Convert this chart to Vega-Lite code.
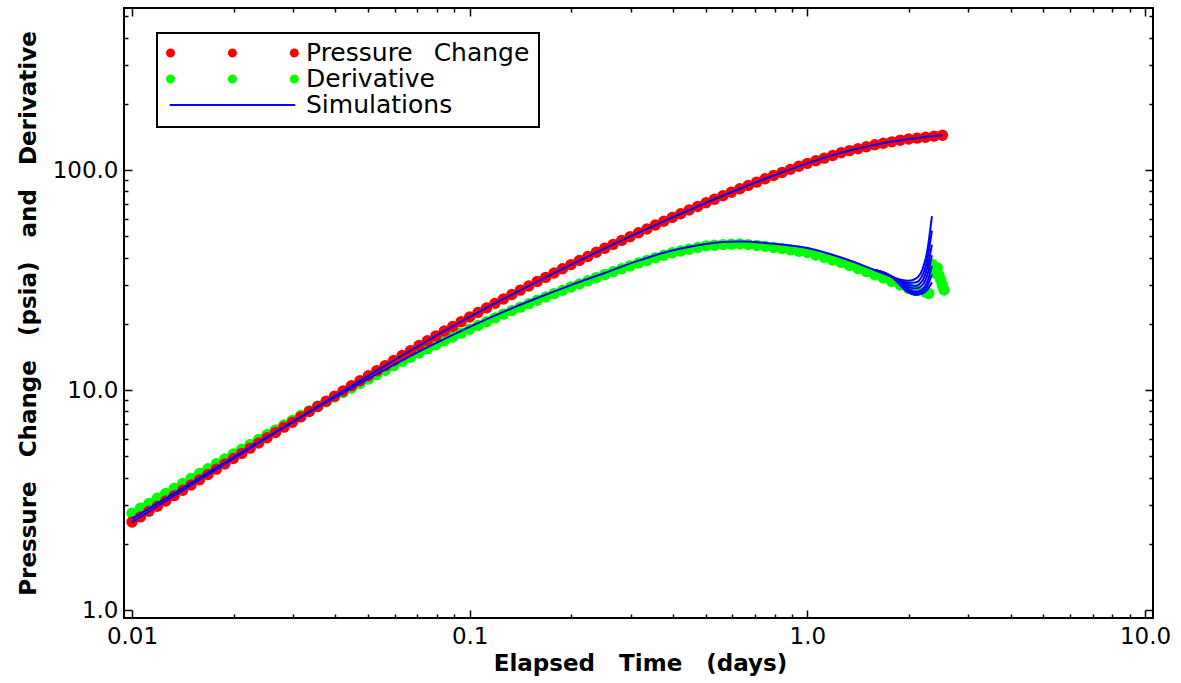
{
  "$schema": "https://vega.github.io/schema/vega-lite/v6.json",
  "width": 1029,
  "height": 610,
  "autosize": {"type": "none"},
  "padding": {"left": 124, "top": 8, "right": 28, "bottom": 65},
  "background": "white",
  "datasets": {
    "deriv": [
      {"t":0.01,"v":2.754},{"t":0.010593,"v":2.90},{"t":0.01122,"v":3.05},{"t":0.011885,"v":3.22},{"t":0.012589,"v":3.39},
      {"t":0.013335,"v":3.57},{"t":0.014125,"v":3.76},{"t":0.014962,"v":3.96},{"t":0.015849,"v":4.17},{"t":0.016788,"v":4.39},
      {"t":0.017783,"v":4.62},{"t":0.018836,"v":4.86},{"t":0.019953,"v":5.12},{"t":0.021135,"v":5.38},{"t":0.022387,"v":5.66},
      {"t":0.023714,"v":5.96},{"t":0.025119,"v":6.27},{"t":0.026607,"v":6.59},{"t":0.028184,"v":6.93},{"t":0.029854,"v":7.28},
      {"t":0.031623,"v":7.66},{"t":0.033497,"v":8.04},{"t":0.035481,"v":8.43},{"t":0.037584,"v":8.85},{"t":0.039811,"v":9.29},
      {"t":0.04217,"v":9.74},{"t":0.044668,"v":10.21},{"t":0.047315,"v":10.70},{"t":0.050119,"v":11.22},{"t":0.053088,"v":11.75},
      {"t":0.056234,"v":12.30},{"t":0.059566,"v":12.88},{"t":0.063096,"v":13.49},{"t":0.066834,"v":14.09},{"t":0.070795,"v":14.72},
      {"t":0.074989,"v":15.38},{"t":0.079433,"v":16.07},{"t":0.08414,"v":16.74},{"t":0.089125,"v":17.42},{"t":0.094406,"v":18.14},
      {"t":0.1,"v":18.88},{"t":0.10593,"v":19.63},{"t":0.1122,"v":20.44},{"t":0.11885,"v":21.28},{"t":0.12589,"v":22.13},
      {"t":0.13335,"v":22.96},{"t":0.14125,"v":23.80},{"t":0.14962,"v":24.66},{"t":0.15849,"v":25.59},{"t":0.16788,"v":26.49},
      {"t":0.17783,"v":27.42},{"t":0.18836,"v":28.38},{"t":0.19953,"v":29.38},{"t":0.21135,"v":30.34},{"t":0.22387,"v":31.37},
      {"t":0.23714,"v":32.43},{"t":0.25119,"v":33.50},{"t":0.26607,"v":34.51},{"t":0.28184,"v":35.56},{"t":0.29854,"v":36.64},
      {"t":0.31623,"v":37.76},{"t":0.33497,"v":38.82},{"t":0.35481,"v":39.90},{"t":0.37584,"v":40.97},{"t":0.39811,"v":42.07},
      {"t":0.4217,"v":42.85},{"t":0.44668,"v":43.65},{"t":0.47315,"v":44.46},{"t":0.50119,"v":45.19},{"t":0.53088,"v":45.50},
      {"t":0.56234,"v":45.81},{"t":0.59566,"v":46.03},{"t":0.63096,"v":46.13},{"t":0.66834,"v":45.81},{"t":0.70795,"v":45.39},
      {"t":0.74989,"v":44.98},{"t":0.79433,"v":44.46},{"t":0.8414,"v":43.95},{"t":0.89125,"v":43.35},{"t":0.94406,"v":42.76},
      {"t":1.0,"v":42.17},{"t":1.0593,"v":41.11},{"t":1.122,"v":40.09},{"t":1.1885,"v":39.00},{"t":1.2589,"v":38.02},
      {"t":1.3335,"v":36.81},{"t":1.4125,"v":35.65},{"t":1.4962,"v":34.51},{"t":1.5849,"v":33.42},{"t":1.6788,"v":32.28},
      {"t":1.7783,"v":31.12},{"t":1.8836,"v":30.06},{"t":1.9953,"v":28.97},{"t":2.1135,"v":28.31},{"t":2.2387,"v":27.86},
      {"t":2.2909,"v":27.5},{"t":2.3442,"v":37.2},{"t":2.3714,"v":35.1},{"t":2.3988,"v":33.9},{"t":2.4266,"v":35.9},
      {"t":2.4547,"v":33.1},{"t":2.4831,"v":31.6},{"t":2.5119,"v":29.9},{"t":2.541,"v":28.5}
    ],
    "press": [
      {"t":0.01,"v":2.51},{"t":0.010593,"v":2.65},{"t":0.01122,"v":2.81},{"t":0.011885,"v":2.96},{"t":0.012589,"v":3.13},
      {"t":0.013335,"v":3.31},{"t":0.014125,"v":3.50},{"t":0.014962,"v":3.70},{"t":0.015849,"v":3.91},{"t":0.016788,"v":4.13},
      {"t":0.017783,"v":4.37},{"t":0.018836,"v":4.61},{"t":0.019953,"v":4.88},{"t":0.021135,"v":5.15},{"t":0.022387,"v":5.44},
      {"t":0.023714,"v":5.74},{"t":0.025119,"v":6.07},{"t":0.026607,"v":6.41},{"t":0.028184,"v":6.78},{"t":0.029854,"v":7.14},
      {"t":0.031623,"v":7.55},{"t":0.033497,"v":7.98},{"t":0.035481,"v":8.41},{"t":0.037584,"v":8.89},{"t":0.039811,"v":9.38},
      {"t":0.04217,"v":9.89},{"t":0.044668,"v":10.45},{"t":0.047315,"v":11.02},{"t":0.050119,"v":11.61},{"t":0.053088,"v":12.25},
      {"t":0.056234,"v":12.91},{"t":0.059566,"v":13.61},{"t":0.063096,"v":14.35},{"t":0.066834,"v":15.10},{"t":0.070795,"v":15.92},
      {"t":0.074989,"v":16.75},{"t":0.079433,"v":17.62},{"t":0.08414,"v":18.53},{"t":0.089125,"v":19.45},{"t":0.094406,"v":20.46},
      {"t":0.1,"v":21.48},{"t":0.10593,"v":22.54},{"t":0.1122,"v":23.61},{"t":0.11885,"v":24.77},{"t":0.12589,"v":25.94},
      {"t":0.13335,"v":27.16},{"t":0.14125,"v":28.44},{"t":0.14962,"v":29.72},{"t":0.15849,"v":31.12},{"t":0.16788,"v":32.51},
      {"t":0.17783,"v":34.04},{"t":0.18836,"v":35.56},{"t":0.19953,"v":37.15},{"t":0.21135,"v":38.82},{"t":0.22387,"v":40.46},
      {"t":0.23714,"v":42.27},{"t":0.25119,"v":44.06},{"t":0.26607,"v":45.92},{"t":0.28184,"v":47.86},{"t":0.29854,"v":49.77},
      {"t":0.31623,"v":51.88},{"t":0.33497,"v":53.95},{"t":0.35481,"v":56.23},{"t":0.37584,"v":58.48},{"t":0.39811,"v":60.81},
      {"t":0.4217,"v":63.24},{"t":0.44668,"v":65.77},{"t":0.47315,"v":68.23},{"t":0.50119,"v":70.96},{"t":0.53088,"v":73.62},
      {"t":0.56234,"v":76.38},{"t":0.59566,"v":79.25},{"t":0.63096,"v":82.22},{"t":0.66834,"v":85.11},{"t":0.70795,"v":88.10},
      {"t":0.74989,"v":91.20},{"t":0.79433,"v":94.41},{"t":0.8414,"v":97.50},{"t":0.89125,"v":100.7},{"t":0.94406,"v":104.0},
      {"t":1.0,"v":107.2},{"t":1.0593,"v":110.2},{"t":1.122,"v":113.2},{"t":1.1885,"v":116.4},{"t":1.2589,"v":119.7},
      {"t":1.3335,"v":122.5},{"t":1.4125,"v":125.0},{"t":1.4962,"v":127.6},{"t":1.5849,"v":130.3},{"t":1.6788,"v":132.4},
      {"t":1.7783,"v":134.3},{"t":1.8836,"v":136.5},{"t":1.9953,"v":138.4},{"t":2.1135,"v":139.6},{"t":2.2387,"v":140.9},
      {"t":2.3714,"v":142.6},{"t":2.5119,"v":143.9}
    ],
    "sim": [
      {"run":"P","t":0.01,"v":2.51},{"run":"P","t":0.012589,"v":3.13},{"run":"P","t":0.015849,"v":3.91},{"run":"P","t":0.019953,"v":4.88},
      {"run":"P","t":0.025119,"v":6.07},{"run":"P","t":0.031623,"v":7.55},{"run":"P","t":0.039811,"v":9.38},{"run":"P","t":0.050119,"v":11.61},
      {"run":"P","t":0.063096,"v":14.35},{"run":"P","t":0.079433,"v":17.62},{"run":"P","t":0.1,"v":21.48},{"run":"P","t":0.12589,"v":25.94},
      {"run":"P","t":0.15849,"v":31.12},{"run":"P","t":0.19953,"v":37.15},{"run":"P","t":0.25119,"v":44.06},{"run":"P","t":0.31623,"v":51.88},
      {"run":"P","t":0.39811,"v":60.81},{"run":"P","t":0.50119,"v":70.96},{"run":"P","t":0.63096,"v":82.22},{"run":"P","t":0.79433,"v":94.41},
      {"run":"P","t":1.0,"v":107.2},{"run":"P","t":1.2589,"v":119.7},{"run":"P","t":1.5849,"v":130.3},{"run":"P","t":1.9953,"v":138.4},
      {"run":"P","t":2.5119,"v":143.9},
      {"run":"D1","t":0.01,"v":2.60},{"run":"D1","t":0.012589,"v":3.22},{"run":"D1","t":0.015849,"v":3.99},{"run":"D1","t":0.019953,"v":4.94},
      {"run":"D1","t":0.025119,"v":6.11},{"run":"D1","t":0.031623,"v":7.53},{"run":"D1","t":0.039811,"v":9.25},{"run":"D1","t":0.050119,"v":11.27},
      {"run":"D1","t":0.063096,"v":13.65},{"run":"D1","t":0.079433,"v":16.33},{"run":"D1","t":0.1,"v":19.36},{"run":"D1","t":0.12589,"v":22.65},
      {"run":"D1","t":0.15849,"v":26.18},{"run":"D1","t":0.19953,"v":29.99},{"run":"D1","t":0.25119,"v":34.04},{"run":"D1","t":0.31623,"v":38.73},
      {"run":"D1","t":0.39811,"v":43.05},{"run":"D1","t":0.50119,"v":46.13},{"run":"D1","t":0.63096,"v":47.32},{"run":"D1","t":0.79433,"v":46.24},
      {"run":"D1","t":1.0,"v":44.16},{"run":"D1","t":1.2589,"v":39.99},{"run":"D1","t":1.5849,"v":35.08},{"run":"D1","t":1.7783,"v":32.73},
      {"run":"D1","t":1.9055,"v":31.62},{"run":"D1","t":1.9953,"v":31.41},{"run":"D1","t":2.0893,"v":31.99},{"run":"D1","t":2.1878,"v":35.08},
      {"run":"D1","t":2.2646,"v":42.66},{"run":"D1","t":2.3388,"v":61.66},
      {"run":"D2","t":1.5849,"v":35.08},{"run":"D2","t":1.7783,"v":32.73},{"run":"D2","t":1.9055,"v":30.90},{"run":"D2","t":1.9953,"v":30.06},
      {"run":"D2","t":2.0893,"v":29.79},{"run":"D2","t":2.1878,"v":31.26},{"run":"D2","t":2.2646,"v":35.89},{"run":"D2","t":2.3388,"v":45.71},
      {"run":"D3","t":1.5849,"v":35.08},{"run":"D3","t":1.7783,"v":32.73},{"run":"D3","t":1.9055,"v":30.06},{"run":"D3","t":1.9953,"v":28.71},
      {"run":"D3","t":2.0893,"v":27.99},{"run":"D3","t":2.1878,"v":28.71},{"run":"D3","t":2.2646,"v":30.90},{"run":"D3","t":2.3388,"v":36.73},
      {"run":"D4","t":1.5849,"v":35.08},{"run":"D4","t":1.7783,"v":32.73},{"run":"D4","t":1.9055,"v":29.38},{"run":"D4","t":1.9953,"v":27.67},
      {"run":"D4","t":2.0893,"v":27.04},{"run":"D4","t":2.1878,"v":27.42},{"run":"D4","t":2.2646,"v":28.51},{"run":"D4","t":2.3388,"v":30.90},
      {"run":"D5","t":1.5849,"v":35.08},{"run":"D5","t":1.7783,"v":32.73},{"run":"D5","t":1.9055,"v":30.5},{"run":"D5","t":1.9953,"v":29.4},
      {"run":"D5","t":2.0893,"v":28.9},{"run":"D5","t":2.1878,"v":29.9},{"run":"D5","t":2.2646,"v":33.2},{"run":"D5","t":2.3388,"v":41.0},
      {"run":"D6","t":1.5849,"v":35.08},{"run":"D6","t":1.7783,"v":32.73},{"run":"D6","t":1.9055,"v":29.7},{"run":"D6","t":1.9953,"v":28.2},
      {"run":"D6","t":2.0893,"v":27.5},{"run":"D6","t":2.1878,"v":28.0},{"run":"D6","t":2.2646,"v":29.6},{"run":"D6","t":2.3388,"v":33.5},
      {"run":"D7","t":1.5849,"v":35.08},{"run":"D7","t":1.7783,"v":32.73},{"run":"D7","t":1.9055,"v":31.2},{"run":"D7","t":1.9953,"v":30.7},
      {"run":"D7","t":2.0893,"v":30.8},{"run":"D7","t":2.1878,"v":33.0},{"run":"D7","t":2.2646,"v":39.0},{"run":"D7","t":2.3388,"v":53.0}
    ]
  },
  "layer": [
    {
      "data": {"name": "deriv"},
      "mark": {"type": "circle", "size": 130, "opacity": 1, "color": "#00ff00"},
      "encoding": {
        "x": {
          "field": "t", "type": "quantitative",
          "scale": {"type": "log", "domain": [0.01, 10], "range": [8, 1021], "nice": false},
          "axis": {
            "orient": "bottom",
            "values": [0.01,0.02,0.03,0.04,0.05,0.06,0.07,0.08,0.09,0.1,0.2,0.3,0.4,0.5,0.6,0.7,0.8,0.9,1,2,3,4,5,6,7,8,9,10],
            "labelExpr": "datum.value == 0.01 ? '0.01' : datum.value == 0.1 ? '0.1' : datum.value == 1 ? '1.0' : datum.value == 10 ? '10.0' : ''",
            "tickSize": {"condition": {"test": "datum.value == 0.01 || datum.value == 0.1 || datum.value == 1 || datum.value == 10", "value": -8}, "value": -4},
            "labelPadding": 15,
            "title": "Elapsed \u00a0 Time \u00a0 (days)",
            "titleX": 516, "titleY": 45, "titleBaseline": "middle", "titleAlign": "center"
          }
        },
        "y": {
          "field": "v", "type": "quantitative",
          "scale": {"type": "log", "domain": [1, 506.5], "range": [602, 7], "nice": false},
          "axis": {
            "orient": "left",
            "values": [1,2,3,4,5,6,7,8,9,10,20,30,40,50,60,70,80,90,100,200,300,400,500],
            "labelExpr": "datum.value == 1 ? '1.0' : datum.value == 10 ? '10.0' : datum.value == 100 ? '100.0' : ''",
            "tickSize": {"condition": {"test": "datum.value == 1 || datum.value == 10 || datum.value == 100", "value": -8}, "value": -4},
            "labelPadding": 14,
            "title": "Pressure \u00a0 Change \u00a0 (psia) \u00a0 and \u00a0 Derivative",
            "titleX": -96, "titleY": 305, "titleAngle": -90, "titleBaseline": "middle", "titleAlign": "center"
          }
        }
      }
    },
    {
      "data": {"name": "press"},
      "mark": {"type": "circle", "size": 130, "opacity": 1, "color": "#ff0000"},
      "encoding": {
        "x": {
          "field": "t", "type": "quantitative",
          "scale": {"type": "log", "domain": [0.01, 10], "range": [8, 1021], "nice": false},
          "axis": {
            "orient": "top",
            "values": [0.01,0.02,0.03,0.04,0.05,0.06,0.07,0.08,0.09,0.1,0.2,0.3,0.4,0.5,0.6,0.7,0.8,0.9,1,2,3,4,5,6,7,8,9,10],
            "labels": false, "title": null,
            "tickSize": {"condition": {"test": "datum.value == 0.01 || datum.value == 0.1 || datum.value == 1 || datum.value == 10", "value": -8}, "value": -4}
          }
        },
        "y": {
          "field": "v", "type": "quantitative",
          "scale": {"type": "log", "domain": [1, 506.5], "range": [602, 7], "nice": false},
          "axis": {
            "orient": "right",
            "values": [1,2,3,4,5,6,7,8,9,10,20,30,40,50,60,70,80,90,100,200,300,400,500],
            "labels": false, "title": null,
            "tickSize": {"condition": {"test": "datum.value == 1 || datum.value == 10 || datum.value == 100", "value": -8}, "value": -4}
          }
        }
      }
    },
    {
      "data": {"name": "sim"},
      "mark": {"type": "line", "strokeWidth": 2, "interpolate": "monotone", "color": "#0000ff"},
      "encoding": {
        "x": {"field": "t", "type": "quantitative", "scale": {"type": "log", "domain": [0.01, 10], "range": [8, 1021], "nice": false}, "axis": null},
        "y": {"field": "v", "type": "quantitative", "scale": {"type": "log", "domain": [1, 506.5], "range": [602, 7], "nice": false}, "axis": null},
        "detail": {"field": "run", "type": "nominal"}
      }
    },
    {
      "data": {"name": "press"},
      "mark": {"type": "line", "opacity": 0},
      "encoding": {
        "x": {"field": "t", "type": "quantitative", "scale": {"type": "log", "domain": [0.01, 10], "range": [8, 1021], "nice": false}, "axis": null},
        "y": {"field": "v", "type": "quantitative", "scale": {"type": "log", "domain": [1, 506.5], "range": [602, 7], "nice": false}, "axis": null},
        "color": {
          "datum": "Simulations", "type": "nominal",
          "scale": {"domain": ["Pressure Change", "Derivative", "Simulations"], "range": ["#ff0000", "#00ff00", "#0000ff"]},
          "legend": {
            "orient": "none", "legendX": 33, "legendY": 25,
            "title": null,
            "symbolType": "stroke",
            "symbolSize": 15376,
            "symbolStrokeWidth": 9,
            "symbolOpacity": 1,
            "clipHeight": 22,
            "rowPadding": 1,
            "labelFont": "DejaVu Sans", "labelFontSize": 25, "labelColor": "black",
            "labelOffset": 7,
            "labelLimit": 400,
            "padding": 9,
            "strokeColor": "black",
            "fillColor": "white",
            "labelExpr": "datum.label == 'Pressure Change' ? 'Pressure \u00a0\u2009Change' : datum.label",
            "encode": {
              "symbols": {"update": {
                "shape": {"value": "stroke"},
                "size": {"value": 15376},
                "strokeDash": {"signal": "(datum.value == 'Simulations' ? [1, 0] : [0.01, 61.9])"},
                "strokeWidth": {"signal": "(datum.value == 'Simulations' ? 2 : 9)"},
                "strokeCap": {"value": "round"},
                "stroke": {"signal": "scale('color', datum.value)"},
                "opacity": {"value": 1},
                "strokeOpacity": {"value": 1}
              }},
              "legend": {"update": {"strokeWidth": {"value": 2}}}
            }
          }
        }
      }
    }
  ],
  "resolve": {"axis": {"x": "independent", "y": "independent"}},
  "config": {
    "view": {"stroke": "black", "strokeWidth": 2},
    "font": "DejaVu Sans",
    "axis": {
      "grid": false, "domain": false,
      "tickColor": "black", "tickWidth": 1.5,
      "labelColor": "black", "labelFont": "DejaVu Sans", "labelFontSize": 23,
      "titleFont": "DejaVu Sans", "titleFontSize": 23, "titleFontWeight": "bold", "titleColor": "black",
      "labelOverlap": false, "labelFlush": false, "labelBound": false
    }
  }
}
